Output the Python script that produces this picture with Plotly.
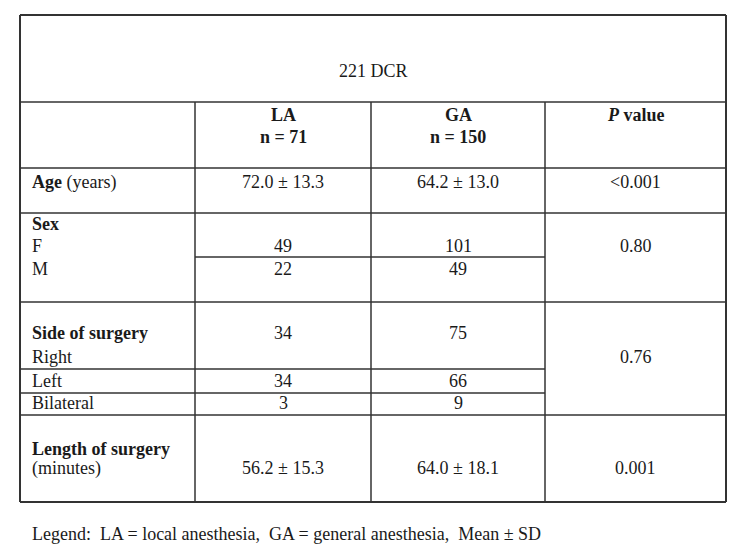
import plotly.graph_objects as go

# ---------------- data ----------------
table_title = "221 DCR"
groups = ["LA", "GA"]
group_n = [71, 150]
p_header = "P"
age_label, age_unit = "Age", "(years)"
age_values = ["72.0 ± 13.3", "64.2 ± 13.0"]
sex_label = "Sex"
sex_categories = ["F", "M"]
sex_la = [49, 22]
sex_ga = [101, 49]
side_label = "Side of surgery"
side_categories = ["Right", "Left", "Bilateral"]
side_la = [34, 34, 3]
side_ga = [75, 66, 9]
length_label, length_unit = "Length of surgery", "(minutes)"
length_values = ["56.2 ± 15.3", "64.0 ± 18.1"]
p_values = ["<0.001", "0.80", "0.76", "0.001"]
legend_text = "Legend:  LA = local anesthesia,  GA = general anesthesia,  Mean ± SD"

# ---------------- layout geometry ----------------
W, H = 747, 560
XL, XC1, XC2, XC3, XR = 20, 195, 371, 545, 726
Y_TOP, Y_HEAD, Y_AGE, Y_SEX_MID, Y_SEX = 15, 102, 168, 213, 257
Y_SEXB, Y_RIGHT, Y_LEFT, Y_SIDEB, Y_END = 302, 369, 393, 415, 502
LABEL_X = 30
FONT = "Liberation Serif, Times New Roman, serif"
FS = 18
TXT = "#1a1a1a"
LINE = "#333333"

col_centers = [(XC1 + XC2) / 2, (XC2 + XC3) / 2]
p_center = (XC3 + XR) / 2

fig = go.Figure()
shapes = []


def hline(y, x0, x1, w=1.5):
    shapes.append(dict(type="line", xref="x", yref="y", x0=x0, x1=x1, y0=y, y1=y,
                       line=dict(color=LINE, width=w)))


def vline(x, y0, y1, w=1.5):
    shapes.append(dict(type="line", xref="x", yref="y", x0=x, x1=x, y0=y0, y1=y1,
                       line=dict(color=LINE, width=w)))


# outer frame
hline(Y_TOP, XL, XR, 2)
hline(Y_END, XL, XR, 2)
vline(XL, Y_TOP, Y_END, 2)
vline(XR, Y_TOP, Y_END, 2)
# full-width row lines
for y in [Y_HEAD, Y_AGE, Y_SEX_MID, Y_SEXB, Y_SIDEB]:
    hline(y, XL, XR)
# partial lines
hline(Y_SEX, XC1, XC3)
hline(Y_RIGHT, XL, XC3)
hline(Y_LEFT, XL, XC3)
# column lines
for x in [XC1, XC2, XC3]:
    vline(x, Y_HEAD, Y_END)

anns = []


def txt(x, y, s, align="center"):
    anns.append(dict(x=x, y=y, xref="x", yref="y", text=s, showarrow=False,
                     xanchor=align, yanchor="middle",
                     font=dict(family=FONT, size=FS, color=TXT)))


# title
txt((XL + XR) / 2, 71, table_title)
# headers
for cx, g, n in zip(col_centers, groups, group_n):
    txt(cx, 115, f"<b>{g}</b>")
    txt(cx, 137, f"<b>n = {n}</b>")
txt(p_center, 115, f"<b><i>{p_header}</i> value</b>")

# age
txt(LABEL_X, 182, f"<b>{age_label}</b> {age_unit}", "left")
for cx, v in zip(col_centers, age_values):
    txt(cx, 182, v)
txt(p_center, 182, p_values[0])

# sex
txt(LABEL_X, 224, f"<b>{sex_label}</b>", "left")
sex_y = [246, 269]
for y, c, a, b in zip(sex_y, sex_categories, sex_la, sex_ga):
    txt(LABEL_X, y, c, "left")
    txt(col_centers[0], y, str(a))
    txt(col_centers[1], y, str(b))
txt(p_center, 246, p_values[1])

# side of surgery
txt(LABEL_X, 333, f"<b>{side_label}</b>", "left")
side_label_y = [357, 381, 403]
side_val_y = [333, 381, 403]
for yl, yv, c, a, b in zip(side_label_y, side_val_y, side_categories, side_la, side_ga):
    txt(LABEL_X, yl, c, "left")
    txt(col_centers[0], yv, str(a))
    txt(col_centers[1], yv, str(b))
txt(p_center, 357, p_values[2])

# length of surgery
txt(LABEL_X, 449, f"<b>{length_label}</b>", "left")
txt(LABEL_X, 468, length_unit, "left")
for cx, v in zip(col_centers, length_values):
    txt(cx, 468, v)
txt(p_center, 468, p_values[3])

# legend
txt(LABEL_X, 534, legend_text, "left")

fig.update_layout(
    width=W, height=H,
    margin=dict(l=0, r=0, t=0, b=0),
    paper_bgcolor="white", plot_bgcolor="white",
    xaxis=dict(range=[0, W], visible=False, fixedrange=True),
    yaxis=dict(range=[H, 0], visible=False, fixedrange=True),
    shapes=shapes, annotations=anns, showlegend=False,
)
fig.write_html("out.html", config={"displayModeBar": False},
               post_script="document.body.style.margin='0';document.body.style.overflow='hidden';")
